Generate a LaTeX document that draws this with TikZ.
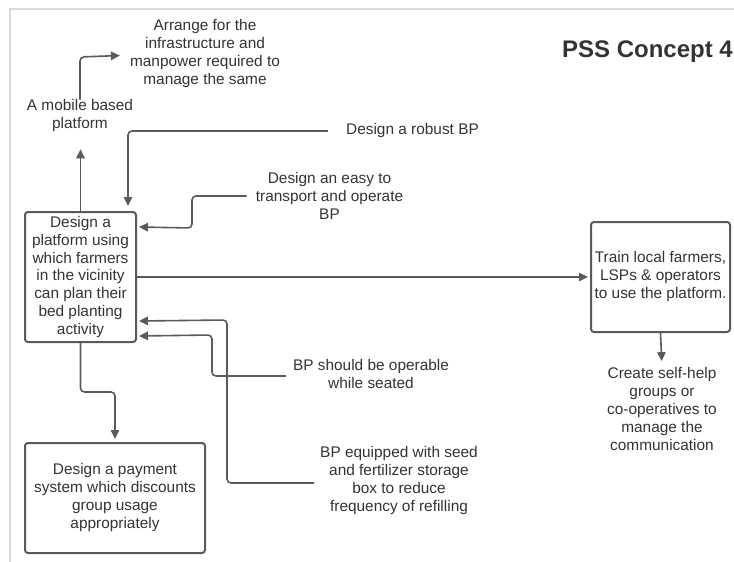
\documentclass[tikz,border=0pt]{standalone}
\usepackage{fontspec}
\setmainfont{Liberation Sans}
\usetikzlibrary{arrows.meta,calc}
\definecolor{linec}{HTML}{5A5A5A}
\definecolor{textc}{HTML}{333333}
\definecolor{framec}{HTML}{DADADA}
\tikzset{
  lbl/.style={font=\fontsize{15.4}{18}\selectfont, text=textc, align=center, inner sep=0pt},
  boxnode/.style={draw=linec, line width=2pt, rounded corners=3pt, font=\fontsize{15.4}{18}\selectfont, text=textc, align=center, inner sep=0pt},
  arr/.style={draw=linec, line width=1.6pt, rounded corners=4pt, -{Triangle[length=9pt,width=8.5pt]}},
}
\begin{document}
\begin{tikzpicture}[x=1pt,y=-1pt]
\useasboundingbox (0,0) rectangle (734,562);
% frame
\draw[framec, line width=1.8pt] (734,9) -- (10,9) -- (10,562);
% title
\node[font=\fontsize{24}{28}\selectfont\bfseries, text=textc, anchor=east, inner sep=0pt] (title) at (733,52) {PSS Concept 4};
% text nodes
\node[lbl] (arrange) at (205,53.5) {Arrange for the\\infrastructure and\\manpower required to\\manage the same};
\node[lbl] (mobile) at (80,116) {A mobile based\\platform};
\node[lbl] (robust) at (412.5,131) {Design a robust BP};
\node[lbl] (easy) at (329.5,196) {Design an easy to\\transport and operate\\BP};
\node[lbl] (seated) at (371,374) {BP should be operable\\while seated};
\node[lbl] (equipped) at (399,480.5) {BP equipped with seed\\and fertilizer storage\\box to reduce\\frequency of refilling};
\node[lbl] (create) at (662,409) {Create self-help\\groups or\\co-operatives to\\manage the\\communication};
% boxes
\node[boxnode, minimum width=111pt, minimum height=130pt, font=\fontsize{15.4}{17.7}\selectfont] (main) at (80.5,277) {Design a\\platform using\\which farmers\\in the vicinity\\can plan their\\bed planting\\activity};
\node[boxnode, minimum width=139pt, minimum height=110pt] (train) at (660.5,277) {Train local farmers,\\LSPs \& operators\\to use the platform.};
\node[boxnode, minimum width=180pt, minimum height=110pt] (payment) at (115,498) {Design a payment\\system which discounts\\group usage\\appropriately};
% connectors
\draw[arr] (mobile.north) -- (80,57) -- ([xshift=-10pt,yshift=-2pt]arrange.west);
\draw[arr, shorten >=17pt] (main.north) -- (main.north |- mobile.south);
\draw[arr, shorten >=5pt] ([xshift=-18pt]robust.west) -| ([xshift=-9pt]main.north east);
\draw[arr] ([xshift=-9pt]easy.west) -- (192,196) -- (192,228) -- ([yshift=-16pt,xshift=2pt]main.north east);
\draw[arr, shorten >=2pt] (main.east) -- (train.west);
\draw[arr, shorten >=6pt] (train.south) -- (create.north);
\draw[arr] ([xshift=-7pt,yshift=-2pt]seated.west) -- (212,376) -- (212,335) -- ([yshift=7pt,xshift=2pt]main.south east);
\draw[arr] ([xshift=-6pt,yshift=-2.5pt]equipped.west) -- (227,483) -- (227,320) -- ([yshift=22pt,xshift=2pt]main.south east);
\draw[arr, shorten >=3pt] (main.south) -- (80.5,392) -- (115,392) -- (payment.north);
\end{tikzpicture}
\end{document}
